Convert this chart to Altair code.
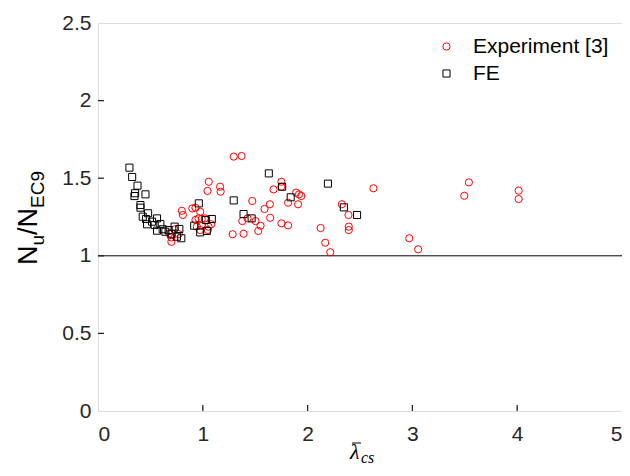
import altair as alt
import pandas as pd

# ---- data ----
exp_x = [0.68, 0.70, 0.70, 0.77, 0.73, 0.80, 0.81, 0.90, 0.93, 0.975,
         0.93, 0.96, 0.99, 1.02, 0.943, 0.99, 1.054, 1.08, 0.975, 1.048,
         1.057, 1.045, 1.165, 1.17, 1.295, 1.37, 1.285, 1.389, 1.377, 1.427,
         1.472, 1.503, 1.551, 1.529, 1.589, 1.64, 1.643, 1.675, 1.75, 1.75,
         1.75, 1.814, 1.814, 1.89, 1.918, 1.94, 1.909, 2.124, 2.168, 2.216,
         2.327, 2.39, 2.393, 2.393, 2.628, 2.97, 3.055, 3.495, 3.539, 4.014, 4.014]
exp_y = [1.145, 1.118, 1.09, 1.14, 1.17, 1.29, 1.263, 1.305, 1.31, 1.284,
         1.231, 1.241, 1.237, 1.241, 1.188, 1.194, 1.188, 1.203, 1.166, 1.166,
         1.477, 1.418, 1.445, 1.413, 1.639, 1.643, 1.139, 1.142, 1.224, 1.241,
         1.353, 1.224, 1.194, 1.16, 1.302, 1.332, 1.245, 1.428, 1.477, 1.445,
         1.209, 1.196, 1.342, 1.407, 1.396, 1.385, 1.332, 1.179, 1.084, 1.023,
         1.332, 1.263, 1.188, 1.166, 1.435, 1.113, 1.042, 1.387, 1.473, 1.42, 1.366]

fe_x = [0.30, 0.326, 0.377, 0.354, 0.348, 0.453, 0.405, 0.405, 0.478, 0.427,
        0.459, 0.563, 0.516, 0.468, 0.541, 0.595, 0.563, 0.617, 0.643, 0.674,
        0.731, 0.776, 0.70, 0.753, 0.795, 0.962, 0.918, 1.029, 1.086, 0.975,
        1.038, 1.63, 1.757, 1.295, 1.839, 2.194, 2.346, 2.472, 1.389, 1.466]
fe_y = [1.568, 1.508, 1.452, 1.403, 1.385, 1.396, 1.327, 1.31, 1.274, 1.252,
        1.237, 1.241, 1.22, 1.203, 1.198, 1.205, 1.162, 1.171, 1.155, 1.166,
        1.188, 1.173, 1.139, 1.123, 1.113, 1.338, 1.194, 1.231, 1.237, 1.151,
        1.16, 1.531, 1.445, 1.357, 1.377, 1.465, 1.312, 1.263, 1.269, 1.241]

series_names = ["Experiment [3]", "FE"]
x_ticks = [0, 1, 2, 3, 4, 5]
y_ticks = [0, 0.5, 1, 1.5, 2, 2.5]
x_inner_ticks = [1, 2, 3, 4]
y_inner_ticks = [0.5, 1, 1.5, 2]
ref_y = [1.0]

df = pd.DataFrame({
    "x": exp_x + fe_x,
    "y": exp_y + fe_y,
    "series": [series_names[0]] * len(exp_x) + [series_names[1]] * len(fe_x),
})

FONT = "Liberation Sans"
INK = "#262626"
W, H = 524, 388

xscale = alt.Scale(domain=[0, 5], nice=False, zero=False)
yscale = alt.Scale(domain=[0, 2.5], nice=False, zero=False)

legend = alt.Legend(title=None, orient="none", legendX=338, legendY=13,
                    symbolSize=30, symbolStrokeWidth=1, labelFontSize=21,
                    labelFont=FONT, labelColor="#000000", labelOffset=16,
                    rowPadding=5, padding=0)

points = alt.Chart(df).mark_point(filled=False, strokeWidth=1, opacity=1).encode(
    x=alt.X("x:Q", scale=xscale,
            axis=alt.Axis(values=x_ticks, format="d", title=None, tickSize=0,
                          domain=False, grid=False, labelFontSize=21,
                          labelFont=FONT, labelColor=INK, labelPadding=12)),
    y=alt.Y("y:Q", scale=yscale,
            axis=alt.Axis(values=y_ticks, format="~g", title=None, tickSize=0,
                          domain=False, grid=False, labelFontSize=21,
                          labelFont=FONT, labelColor=INK, labelPadding=7)),
    color=alt.Color("series:N", scale=alt.Scale(domain=series_names, range=["#ff0000", "#000000"]), legend=legend),
    shape=alt.Shape("series:N", scale=alt.Scale(domain=series_names, range=["circle", "square"]), legend=legend),
    size=alt.Size("series:N", scale=alt.Scale(domain=series_names, range=[52, 50]), legend=None),
)

ref_line = alt.Chart(pd.DataFrame({"y": ref_y})).mark_rule(color="#000000", strokeWidth=1).encode(
    y=alt.Y("y:Q", scale=yscale)
)

yt = alt.Chart(pd.DataFrame({"t": y_inner_ticks})).mark_rule(color=INK, strokeWidth=1.3).encode(
    y=alt.Y("t:Q", scale=yscale), x=alt.value(0), x2=alt.value(6)
)
xt = alt.Chart(pd.DataFrame({"t": x_inner_ticks})).mark_rule(color=INK, strokeWidth=1.3).encode(
    x=alt.X("t:Q", scale=xscale), y=alt.value(H), y2=alt.value(H - 6)
)

dummy = pd.DataFrame({"a": [0]})

def label(txt, x, y, size, angle=0, font=FONT, style="normal"):
    return alt.Chart(dummy).mark_text(text=txt, font=font, fontSize=size, angle=angle,
                                      align="left", baseline="alphabetic", color="#000000",
                                      fontStyle=style).encode(x=alt.value(x), y=alt.value(y))

# y title N_u / N_EC9 (rotated)
ytitle = [
    label("N", -61, 242, 27, 270),
    label("u", -54, 222.5, 19, 270),
    label("/N", -61, 212, 27, 270),
    label("EC9", -54, 185, 19, 270),
]
# x title lambda-bar_cs
xtitle = [
    label("\u03bb", 252, 436, 22, 0, "Liberation Serif", "italic"),
    label("cs", 263, 440, 16, 0, "Liberation Serif", "italic"),
]
bar = alt.Chart(dummy).mark_rule(color="#000000", strokeWidth=1).encode(
    x=alt.value(254), x2=alt.value(263), y=alt.value(420)
)

chart = alt.layer(ref_line, yt, xt, points, *ytitle, *xtitle, bar).properties(
    width=W, height=H,
    autosize=alt.AutoSizeParams(type="none"),
    padding={"left": 90, "top": 15, "right": 0, "bottom": 57},
).configure_view(stroke=INK, strokeWidth=1.4).configure(background="white")

chart.save("out.html", embed_options={"renderer": "svg", "actions": False})
